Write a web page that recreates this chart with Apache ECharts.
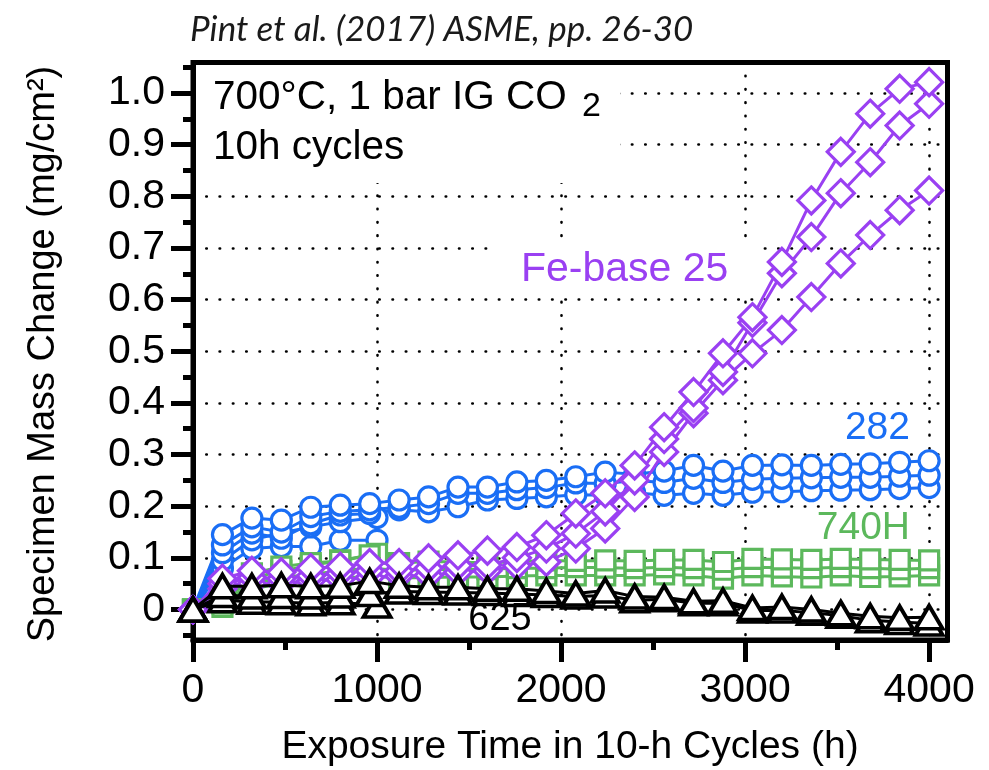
<!DOCTYPE html>
<html>
<head>
<meta charset="utf-8">
<script src="https://cdn.jsdelivr.net/npm/echarts@6/dist/echarts.min.js"></script>
<style>
  html, body { margin: 0; padding: 0; background: #fff; }
  #chart { width: 989px; height: 770px; }
</style>
</head>
<body>
<div id="chart"></div>
<script>
// Exposure times (h): long-term specimens and the short 1000 h specimens
const timeLong = [0, 160, 320, 480, 640, 800, 960, 1120, 1280, 1440, 1600, 1760, 1920,
  2080, 2240, 2400, 2560, 2720, 2880, 3040, 3200, 3360, 3520, 3680, 3840, 4000];
const timeShort = [0, 160, 320, 480, 640, 800, 1000];

// Alloy 282 specimens (mg/cm2)
const alloy282A = [0, 0.145, 0.177, 0.173, 0.198, 0.202, 0.205, 0.212, 0.218, 0.237, 0.237, 0.247, 0.250,
  0.257, 0.266, 0.262, 0.268, 0.279, 0.268, 0.279, 0.280, 0.279, 0.281, 0.282, 0.285, 0.288];
const alloy282B = [0, 0.125, 0.160, 0.150, 0.180, 0.190, 0.193, 0.198, 0.205, 0.225, 0.225, 0.232, 0.236,
  0.245, 0.244, 0.250, 0.246, 0.254, 0.246, 0.252, 0.254, 0.255, 0.256, 0.256, 0.258, 0.260];
const alloy282C = [0, 0.110, 0.148, 0.138, 0.166, 0.183, 0.186, 0.193, 0.189, 0.199, 0.212, 0.215, 0.218,
  0.222, 0.221, 0.226, 0.221, 0.225, 0.221, 0.227, 0.228, 0.230, 0.231, 0.232, 0.234, 0.236];
const alloy282D = [0, 0.080, 0.118, 0.122, 0.122, 0.134, 0.134];
const alloy282E = [0, 0.095, 0.135, 0.148, 0.160, 0.170, 0.178];

// Alloy 740H specimens
const alloy740A = [0, 0.020, 0.070, 0.083, 0.090, 0.094, 0.105, 0.090, 0.093, 0.092, 0.090, 0.093, 0.095,
  0.094, 0.095, 0.094, 0.096, 0.096, 0.092, 0.098, 0.097, 0.096, 0.098, 0.097, 0.096, 0.095];
const alloy740B = [0, 0.012, 0.050, 0.062, 0.068, 0.075, 0.080, 0.076, 0.077, 0.078, 0.078, 0.080, 0.080,
  0.082, 0.081, 0.080, 0.082, 0.080, 0.077, 0.082, 0.081, 0.080, 0.082, 0.080, 0.078, 0.080];
const alloy740C = [0, 0.005, 0.040, 0.050, 0.056, 0.060, 0.065, 0.061, 0.062, 0.063, 0.063, 0.065, 0.066,
  0.066, 0.066, 0.066, 0.068, 0.066, 0.060, 0.066, 0.064, 0.062, 0.066, 0.063, 0.064, 0.066];
const alloy740D = [0, 0.015, 0.060, 0.075, 0.085, 0.095, 0.108];

// Fe-base 25 specimens
const feBaseA = [0, 0.060, 0.075, 0.072, 0.080, 0.083, 0.090, 0.090, 0.099, 0.105, 0.114, 0.121, 0.144,
  0.186, 0.225, 0.279, 0.353, 0.421, 0.496, 0.566, 0.673, 0.792, 0.886, 0.960, 1.008, 1.021];
const feBaseB = [0, 0.050, 0.062, 0.060, 0.065, 0.070, 0.075, 0.075, 0.080, 0.085, 0.086, 0.100, 0.118,
  0.147, 0.190, 0.250, 0.330, 0.390, 0.460, 0.555, 0.651, 0.721, 0.806, 0.866, 0.937, 0.979];
const feBaseC = [0, 0.040, 0.050, 0.050, 0.055, 0.058, 0.062, 0.065, 0.066, 0.072, 0.075, 0.085, 0.092,
  0.118, 0.157, 0.218, 0.305, 0.380, 0.444, 0.496, 0.541, 0.605, 0.670, 0.725, 0.773, 0.811];

// Alloy 625 specimens
const alloy625A = [0, 0.045, 0.045, 0.047, 0.045, 0.046, 0.055, 0.046, 0.043, 0.043, 0.040, 0.040, 0.036,
  0.031, 0.037, 0.025, 0.024, 0.016, 0.017, 0.003, 0.005, 0.000, -0.007, -0.013, -0.016, -0.015];
const alloy625B = [0, 0.028, 0.025, 0.026, 0.025, 0.027, 0.030, 0.035, 0.034, 0.033, 0.032, 0.030, 0.028,
  0.025, 0.027, 0.018, 0.020, 0.012, 0.012, -0.002, -0.002, -0.006, -0.012, -0.021, -0.024, -0.027];
const alloy625C = [0, 0.018, 0.015, 0.014, 0.012, 0.014, 0.008];

// Axis ticks
const xMajorTicks = [0, 1000, 2000, 3000, 4000];
const xMinorTicks = [500, 1500, 2500, 3500];
const yMajorTicks = [0, 0.1, 0.2, 0.3, 0.4, 0.5, 0.6, 0.7, 0.8, 0.9, 1.0];
const yMinorTicks = [-0.05, 0.05, 0.15, 0.25, 0.35, 0.45, 0.55, 0.65, 0.75, 0.85, 0.95, 1.05];

const FONT = '"Liberation Sans", Arial, Helvetica, sans-serif';
const BLUE = '#1a6ef5';
const GREEN = '#5cb85c';
const PURPLE = '#9a40f2';
const BLACK = '#000000';

function pairs(times, values) {
  return values.map((v, i) => [times[i], v]);
}

function specimen(times, values, color, symbol, size, z, border) {
  return {
    type: 'line',
    data: pairs(times, values),
    symbol: symbol,
    symbolSize: size,
    showSymbol: true,
    showAllSymbol: true,
    z: z,
    lineStyle: { color: color, width: 3 },
    itemStyle: { color: '#ffffff', borderColor: color, borderWidth: border || 3.2 },
    emphasis: { disabled: true },
    animation: false
  };
}

const tickLine = { color: '#000', width: 5 };
const gridDots = { color: '#000', width: 2.6, type: [0.5, 12.8], cap: 'round' };

const chart = echarts.init(document.getElementById('chart'), null, { renderer: 'canvas' });
chart.setOption({
  backgroundColor: '#ffffff',
  animation: false,
  grid: {
    left: 193, top: 62.5, width: 754.5, height: 577.5,
    show: true, borderColor: '#000', borderWidth: 5, backgroundColor: 'transparent'
  },
  xAxis: [
    {
      type: 'value', min: 0, max: 4100, position: 'bottom',
      axisLine: { show: true, onZero: false, lineStyle: tickLine },
      axisTick: { show: true, inside: false, length: 22, lineStyle: tickLine, customValues: xMajorTicks },
      axisLabel: {
        show: true, customValues: xMajorTicks, fontSize: 41, fontFamily: FONT, color: '#000', margin: 30,
        formatter: v => String(v)
      },
      splitLine: { show: true, lineStyle: gridDots }
    },
    {
      type: 'value', min: 0, max: 4100, position: 'bottom',
      axisLine: { show: false, onZero: false },
      axisTick: { show: true, inside: false, length: 10, lineStyle: tickLine, customValues: xMinorTicks },
      axisLabel: { show: false },
      splitLine: { show: false }
    }
  ],
  yAxis: [
    {
      type: 'value', min: -0.059, max: 1.059, position: 'left',
      axisLine: { show: true, onZero: false, lineStyle: tickLine },
      axisTick: { show: true, inside: false, length: 22, lineStyle: tickLine, customValues: yMajorTicks },
      axisLabel: {
        show: true, customValues: yMajorTicks, fontSize: 41, fontFamily: FONT, color: '#000', margin: 28,
        formatter: v => (Math.abs(v) < 1e-9 ? '0' : v.toFixed(1))
      },
      splitLine: { show: true, lineStyle: gridDots }
    },
    {
      type: 'value', min: -0.059, max: 1.059, position: 'left',
      axisLine: { show: false, onZero: false },
      axisTick: { show: true, inside: false, length: 10, lineStyle: tickLine, customValues: yMinorTicks },
      axisLabel: { show: false },
      splitLine: { show: false }
    }
  ],
  graphic: [
    // white panels behind the in-plot annotations
    { type: 'rect', silent: true, z: 1, shape: { x: 196, y: 65, width: 424, height: 118 }, style: { fill: '#fff' } },
    { type: 'rect', silent: true, z: 1, shape: { x: 495, y: 238, width: 262, height: 59 }, style: { fill: '#fff' } },
    { type: 'rect', silent: true, z: 1, shape: { x: 464, y: 600, width: 72, height: 36 }, style: { fill: '#fff' } },

    { type: 'text', silent: true, z: 20, x: 190, y: 30,
      style: { text: 'Pint et al. (2017) ASME, pp. 26-30', font: 'italic 35px Lato, "Open Sans", sans-serif', fill: '#1a1a1a', textAlign: 'left', textVerticalAlign: 'middle' } },

    { type: 'text', silent: true, z: 20, x: 213, y: 97.5,
      style: { text: '700°C, 1 bar IG CO', font: '40.5px ' + FONT, fill: '#000', textAlign: 'left', textVerticalAlign: 'middle' } },
    { type: 'text', silent: true, z: 20, x: 582, y: 107,
      style: { text: '2', font: '34px ' + FONT, fill: '#000', textAlign: 'left', textVerticalAlign: 'middle' } },
    { type: 'text', silent: true, z: 20, x: 213, y: 148,
      style: { text: '10h cycles', font: '40.5px ' + FONT, fill: '#000', textAlign: 'left', textVerticalAlign: 'middle' } },

    { type: 'text', silent: true, z: 20, x: 521, y: 270,
      style: { text: 'Fe-base 25', font: '41px ' + FONT, fill: PURPLE, textAlign: 'left', textVerticalAlign: 'middle' } },
    { type: 'text', silent: true, z: 20, x: 910, y: 428,
      style: { text: '282', font: '39px ' + FONT, fill: BLUE, textAlign: 'right', textVerticalAlign: 'middle' } },
    { type: 'text', silent: true, z: 20, x: 910, y: 528,
      style: { text: '740H', font: '39px ' + FONT, fill: GREEN, textAlign: 'right', textVerticalAlign: 'middle' } },
    { type: 'text', silent: true, z: 20, x: 500, y: 620,
      style: { text: '625', font: '38px ' + FONT, fill: '#000', textAlign: 'center', textVerticalAlign: 'middle' } },

    { type: 'text', silent: true, z: 20, x: 44, y: 354, rotation: Math.PI / 2,
      style: { text: 'Specimen Mass Change (mg/cm²)', font: '38px ' + FONT, fill: '#000', textAlign: 'center', textVerticalAlign: 'middle' } },
    { type: 'text', silent: true, z: 20, x: 570, y: 747,
      style: { text: 'Exposure Time in 10-h Cycles (h)', font: '39px ' + FONT, fill: '#000', textAlign: 'center', textVerticalAlign: 'middle' } }
  ],
  series: [
    specimen(timeShort, alloy282D, BLUE, 'circle', 20, 3),
    specimen(timeShort, alloy282E, BLUE, 'circle', 20, 3),
    specimen(timeLong, alloy282C, BLUE, 'circle', 20, 3),
    specimen(timeLong, alloy282B, BLUE, 'circle', 20, 3),
    specimen(timeLong, alloy282A, BLUE, 'circle', 20, 3),

    specimen(timeShort, alloy740D, GREEN, 'rect', 19, 4),
    specimen(timeLong, alloy740C, GREEN, 'rect', 19, 4),
    specimen(timeLong, alloy740B, GREEN, 'rect', 19, 4),
    specimen(timeLong, alloy740A, GREEN, 'rect', 19, 4),

    specimen(timeLong, feBaseC, PURPLE, 'diamond', 27, 5),
    specimen(timeLong, feBaseB, PURPLE, 'diamond', 27, 5),
    specimen(timeLong, feBaseA, PURPLE, 'diamond', 27, 5),

    specimen(timeShort, alloy625C, BLACK, 'triangle', [27, 23], 6, 3.8),
    specimen(timeLong, alloy625B, BLACK, 'triangle', [27, 23], 6, 3.8),
    specimen(timeLong, alloy625A, BLACK, 'triangle', [27, 23], 6, 3.8)
  ]
});
</script>
</body>
</html>
